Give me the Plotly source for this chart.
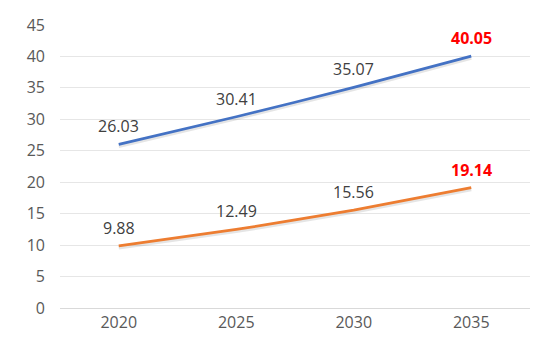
import plotly.graph_objects as go

years = ["2020", "2025", "2030", "2035"]
series_a = [26.03, 30.41, 35.07, 40.05]
series_b = [9.88, 12.49, 15.56, 19.14]
tick_vals = [0, 5, 10, 15, 20, 25, 30, 35, 40, 45]

blue = "#4472C4"
orange = "#ED7D31"
font_family = "Open Sans, Segoe UI, sans-serif"

fig = go.Figure()

for vals, color in [(series_a, blue), (series_b, orange)]:
    # soft shadow
    fig.add_trace(go.Scatter(
        x=years, y=[v - 0.3 for v in vals], mode="lines",
        line=dict(color="rgba(0,0,0,0.10)", width=3.5, shape="spline", smoothing=0.5),
        hoverinfo="skip", showlegend=False))
    fig.add_trace(go.Scatter(
        x=years, y=vals, mode="lines",
        line=dict(color=color, width=2.75, shape="spline", smoothing=0.5),
        showlegend=False))

annotations = []
for vals in (series_a, series_b):
    for i, v in enumerate(vals):
        last = i == len(vals) - 1
        annotations.append(dict(
            x=i, y=v, xref="x", yref="y",
            text=f"<b>{v:.2f}</b>" if last else f"{v:.2f}",
            showarrow=False, yshift=18,
            font=dict(family=font_family, size=16,
                      color="#FF0000" if last else "#404040"),
        ))

fig.update_layout(
    width=553, height=346,
    margin=dict(l=60, r=23, t=25, b=38),
    paper_bgcolor="white", plot_bgcolor="white",
    annotations=annotations,
    xaxis=dict(type="category", range=[-0.5, 3.5], showgrid=False,
               showline=True, linecolor="#D9D9D9", linewidth=1, ticks="",
               tickfont=dict(family=font_family, size=16, color="#595959")),
    yaxis=dict(range=[0, 45], tickvals=tick_vals, showgrid=True,
               gridcolor="#E6E6E6", gridwidth=1, zeroline=False,
               ticks="", ticklabelstandoff=14,
               tickfont=dict(family=font_family, size=16, color="#595959")),
)

fig.write_html("out.html")
